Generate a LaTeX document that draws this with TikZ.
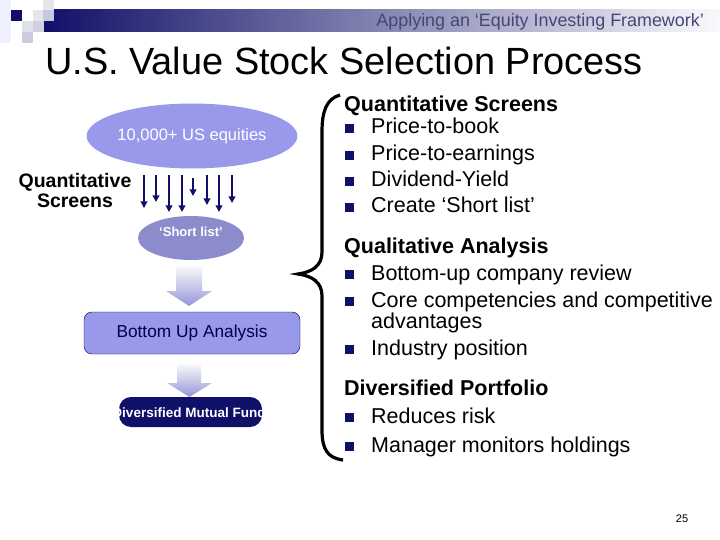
\documentclass[tikz,border=0pt]{standalone}
\usepackage{fontspec}
\setmainfont{Liberation Sans}
\usetikzlibrary{arrows.meta,shapes.geometric,positioning}
\definecolor{navy}{RGB}{16,16,104}
\definecolor{barmid}{RGB}{150,150,190}
\definecolor{hdtext}{RGB}{70,70,120}
\definecolor{lav}{RGB}{153,153,236}
\definecolor{shortlav}{RGB}{140,140,204}
\definecolor{arrowlav}{RGB}{150,150,214}
\definecolor{boxline}{RGB}{0,0,70}

\begin{document}
\begin{tikzpicture}[x=1pt,y=-1pt,
    oval/.style={ellipse, inner sep=0pt, text=white},
    scr/.style={-{Triangle[length=6.5pt,width=6.5pt]}, line width=1.8pt, draw=navy},
    blk/.style={top color=white, bottom color=arrowlav, draw=none},
    item/.style={anchor=base west, inner sep=0pt, font=\fontsize{21.5}{24}\selectfont},
    head/.style={item, font=\fontsize{21.5}{24}\selectfont\bfseries},
    bul/.style={fill=navy, minimum size=8.5pt, inner sep=0pt, anchor=south west}
]
\useasboundingbox (0,0) rectangle (720,540);
\fill[white] (0,0) rectangle (720,540);

% header bar and squares
\shade[left color=navy, middle color=barmid, right color=white!95!barmid] (43,10) rectangle (720,32);
\fill[black!4!blue!6] (0,0) rectangle (11,43);
\fill[navy] (11,10) rectangle (22,21);
\fill[blue!20!black!12] (22,21) rectangle (33,32);
\fill[blue!40!black!20] (22,32) rectangle (33,43);
\fill[blue!18!black!10] (33,10) rectangle (44,21);
\fill[blue!35!black!18] (33,21) rectangle (44,32);
\fill[blue!18!black!10] (43,0) rectangle (54,10);
\fill[blue!45!black!22] (43,10) rectangle (54,21);
\node[anchor=base east, inner sep=0pt, text=hdtext, font=\fontsize{17.9}{20}\selectfont] (hdr) at (704,27) {Applying an ‘Equity Investing Framework’};
\node[anchor=base west, inner sep=0pt, font=\fontsize{37.9}{40}\selectfont] (title) at (45,75) {U.S. Value Stock Selection Process};

% left flow
\node[oval, fill=lav, minimum width=190pt, minimum height=65pt, font=\fontsize{16.5}{18}\selectfont] (univ) at (192,136) {10,000+ US equities};
\node[align=center, inner sep=0pt, font=\fontsize{19.5}{20}\selectfont\bfseries] (qs) at (75,191) {Quantitative\\Screens};
\foreach \i/\x/\ys/\ye in {1/144/175/208, 2/156/175/202, 3/169/175/212, 4/182/175/212, 5/193/178/196, 6/207/175/205, 7/219/175/212, 8/232/175/203} {
  \coordinate (s\i) at (\x,\ys);
  \coordinate (e\i) at (\x,\ye);
  \draw[scr] (s\i) -- (e\i);
}
\node[oval, fill=shortlav, minimum width=106pt, minimum height=44pt] (short) at (191,238) {};
\node[text=white, inner sep=0pt, font=\fontsize{13}{14}\selectfont\bfseries] (shorttxt) at (191,232) {‘Short list’};
\shade[blk] (176,264) -- (202,264) -- (202,291) -- (212,291) -- (189,306) -- (166,291) -- (176,291) -- cycle;
\node[draw=boxline, fill=lav, rounded corners=8pt, minimum width=216pt, minimum height=42pt, inner sep=0pt, text=boxline, font=\fontsize{17.3}{18}\selectfont] (bua) at (192,333) {Bottom Up Analysis};
\shade[blk] (177,362) -- (201,362) -- (201,383) -- (212,383) -- (189.5,397) -- (167,383) -- (177,383) -- cycle;
\node[fill=navy, rounded corners=12pt, minimum width=143pt, minimum height=30pt, inner sep=0pt] (fund) at (190.5,412) {};
\begin{scope}
  \clip[rounded corners=12pt] (119,397) rectangle (262,427);
  \node[text=white, inner sep=0pt, font=\fontsize{13.5}{14}\selectfont\bfseries] (fundtxt) at (189,413) {Diversified Mutual Fund};
\end{scope}

% brace
\draw[line width=3.2pt] (340,95) .. controls (326,99) and (322,112) .. (322,132) -- (322,252)
  .. controls (322,266) and (312,272) .. (298,274) .. controls (312,276) and (322,282) .. (322,296)
  -- (322,430) .. controls (322,450) and (328,458) .. (343,460);

% right text
\node[head] (h1) at (344,112) {Quantitative Screens};
\node[head] (h2) at (344,254) {Qualitative Analysis};
\node[head] (h3) at (344,395) {Diversified Portfolio};
\foreach \n/\y/\t in {a/134/Price-to-book, b/161/Price-to-earnings, c/187/Dividend-Yield, d/213/Create ‘Short list’,
  e/280/Bottom-up company review, f/307/Core competencies and competitive, h/355/Industry position,
  i/423/Reduces risk, j/452/Manager monitors holdings} {
  \node[bul] (b\n) at (345,\y-1) {};
  \node[item] (t\n) at (371,\y) {\t};
}
\node[item] (tg) at (371,328) {advantages};
\node[anchor=base, inner sep=0pt, font=\fontsize{11}{12}\selectfont] (pg) at (682,522) {25};
\end{tikzpicture}
\end{document}
